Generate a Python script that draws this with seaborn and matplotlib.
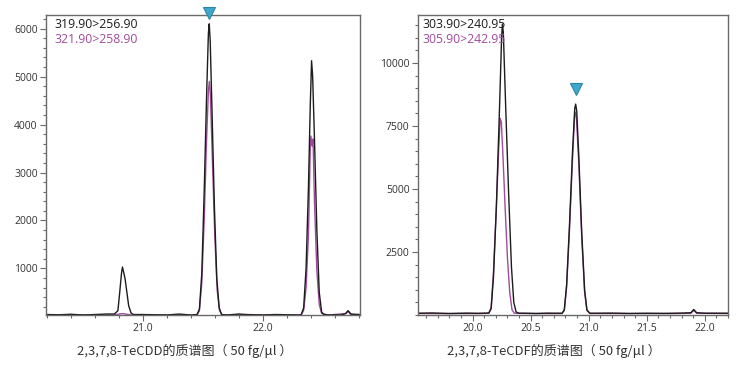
import matplotlib
matplotlib.use("Agg")
import matplotlib.pyplot as plt
import seaborn as sns
import pandas as pd
import numpy as np
from matplotlib.ticker import MultipleLocator, FixedLocator

sns.set_style("ticks")
plt.rcParams['font.family'] = ['Open Sans', 'DejaVu Sans']

# ---------------- data: 2,3,7,8-TeCDD ----------------
cdd_label_a = "319.90>256.90"
cdd_label_b = "321.90>258.90"
cdd_t_a = [20.19, 20.30, 20.40, 20.50, 20.60, 20.70, 20.76, 20.79, 20.805, 20.82, 20.828, 20.84, 20.85,
           20.865, 20.88, 20.90, 20.92, 21.00, 21.10, 21.20, 21.30, 21.40, 21.45, 21.47, 21.49, 21.51,
           21.53, 21.545, 21.552, 21.56, 21.575, 21.595, 21.615, 21.635, 21.655, 21.70, 21.80, 21.85,
           21.90, 22.00, 22.10, 22.20, 22.30, 22.32, 22.34, 22.36, 22.38, 22.395, 22.406, 22.415, 22.43,
           22.45, 22.47, 22.49, 22.51, 22.55, 22.60, 22.65, 22.69, 22.71, 22.73, 22.81]
cdd_y_a = [40, 35, 45, 30, 40, 50, 50, 120, 500, 900, 1030, 900, 780,
           500, 220, 70, 40, 40, 35, 30, 50, 30, 40, 150, 900, 2600,
           4600, 5900, 6100, 5750, 4300, 2300, 800, 180, 40, 30, 50, 40,
           35, 30, 40, 35, 30, 40, 180, 1000, 2700, 4400, 5330, 5000, 3700,
           1800, 500, 90, 40, 30, 35, 30, 60, 120, 50, 40]
cdd_t_b = [20.19, 20.40, 20.60, 20.75, 20.83, 20.90, 21.20, 21.45, 21.47, 21.49, 21.51, 21.53, 21.545,
           21.553, 21.562, 21.578, 21.598, 21.618, 21.638, 21.66, 21.70, 21.85, 22.10, 22.32, 22.34,
           22.36, 22.38, 22.395, 22.40, 22.41, 22.418, 22.43, 22.45, 22.47, 22.49, 22.55, 22.69, 22.715,
           22.74, 22.81]
cdd_y_b = [30, 30, 35, 30, 60, 30, 30, 30, 120, 700, 2000, 3700, 4700,
           4900, 4600, 3300, 1700, 550, 120, 30, 30, 40, 30, 30, 130,
           600, 1700, 3500, 3760, 3550, 3700, 2400, 950, 250, 60, 30, 60, 110,
           40, 30]
cdd_xlabel = "2,3,7,8-TeCDD的质谱图（ 50 fg/μl ）"

# ---------------- data: 2,3,7,8-TeCDF ----------------
cdf_label_a = "303.90>240.95"
cdf_label_b = "305.90>242.95"
cdf_t_a = [19.53, 19.65, 19.80, 19.95, 20.05, 20.12, 20.14, 20.16, 20.18, 20.205, 20.23, 20.25, 20.257,
           20.265, 20.285, 20.31, 20.335, 20.355, 20.375, 20.40, 20.45, 20.55, 20.65, 20.75, 20.77,
           20.79, 20.81, 20.835, 20.86, 20.88, 20.888, 20.897, 20.915, 20.94, 20.965, 20.985, 21.01,
           21.05, 21.20, 21.35, 21.50, 21.65, 21.80, 21.88, 21.905, 21.93, 22.00, 22.20]
cdf_y_a = [70, 80, 60, 75, 65, 75, 80, 250, 1500, 4300, 7900, 11000, 11550,
           11200, 8300, 4900, 1900, 500, 120, 70, 70, 60, 75, 70, 70,
           200, 1200, 3600, 6400, 8200, 8370, 8100, 6300, 3300, 1000, 200, 70,
           70, 75, 60, 70, 65, 75, 90, 220, 90, 70, 70]
cdf_t_b = [19.53, 19.80, 20.05, 20.14, 20.16, 20.18, 20.205, 20.225, 20.238, 20.248, 20.26, 20.28,
           20.30, 20.32, 20.34, 20.36, 20.50, 20.70, 20.77, 20.79, 20.81, 20.835, 20.86, 20.878, 20.886,
           20.895, 20.915, 20.94, 20.965, 20.985, 21.01, 21.30, 21.70, 21.88, 21.905, 21.93, 22.20]
cdf_y_b = [60, 55, 60, 70, 300, 1700, 4300, 6600, 7800, 7650, 6500, 4300,
           2300, 900, 200, 70, 60, 55, 60, 180, 1100, 3400, 6100, 7850, 8050,
           7800, 6000, 3100, 900, 180, 60, 60, 55, 70, 180, 70, 60]
cdf_xlabel = "2,3,7,8-TeCDF的质谱图（ 50 fg/μl ）"

BLACK = "#1c1c1c"
PURPLE = "#a04b9c"
CYAN = "#3fa7cc"
SPINE = "#6a6a6a"
TICKTXT = "#333333"

fig = plt.figure(figsize=(7.42, 3.66), dpi=100)
ax1 = fig.add_axes([46/742, 1-315/366, 314/742, (315-14.7)/366])
ax2 = fig.add_axes([418/742, 1-315/366, 310/742, (315-14.7)/366])


def draw(ax, ta, ya, tb, yb, la, lb, xlim, ylim, xmaj, xmin, ymaj, ymin, marker_idx_range, marker_y):
    da = pd.DataFrame({"t": ta, "v": ya})
    db = pd.DataFrame({"t": tb, "v": yb})
    sns.lineplot(data=db, x="t", y="v", ax=ax, color=PURPLE, lw=1.0, estimator=None, sort=True)
    sns.lineplot(data=da, x="t", y="v", ax=ax, color=BLACK, lw=1.0, estimator=None, sort=True)
    ax.set_xlim(*xlim)
    ax.set_ylim(*ylim)
    ax.set_xlabel("")
    ax.set_ylabel("")
    ax.xaxis.set_major_locator(FixedLocator(xmaj))
    ax.xaxis.set_minor_locator(MultipleLocator(xmin))
    ax.yaxis.set_major_locator(FixedLocator(ymaj))
    ax.yaxis.set_minor_locator(MultipleLocator(ymin))
    ax.xaxis.set_major_formatter(matplotlib.ticker.FormatStrFormatter("%.1f"))
    ax.yaxis.set_major_formatter(matplotlib.ticker.FormatStrFormatter("%d"))
    for s in ax.spines.values():
        s.set_visible(True)
        s.set_color(SPINE)
        s.set_linewidth(1.0)
    ax.tick_params(which="major", length=4, width=0.8, color=SPINE, labelsize=7.5,
                   labelcolor=TICKTXT, pad=2)
    ax.tick_params(which="minor", length=2.5, width=0.8, color=SPINE)
    ax.tick_params(axis="x", which="both", top=False)
    ax.tick_params(axis="y", which="both", right=False)
    ax.text(0.0, 0.969, la, transform=ax.transAxes, color=BLACK, fontsize=8.8, va="center", ha="left")
    ax.text(0.0, 0.918, lb, transform=ax.transAxes, color=PURPLE, fontsize=8.8, va="center", ha="left")
    # peak marker over the labelled peak
    lo, hi = marker_idx_range
    sub = da[(da.t >= lo) & (da.t <= hi)]
    k = sub.v.idxmax()
    ax.plot([da.t[k]], [marker_y(da.v[k])], marker="v", ms=8, color=CYAN,
            mec="#2a86a8", mew=0.8, clip_on=False, zorder=5)


draw(ax1, cdd_t_a, cdd_y_a, cdd_t_b, cdd_y_b, cdd_label_a, cdd_label_b,
     (20.19, 22.81), (30, 6290), [21.0, 22.0], 0.2, [1000, 2000, 3000, 4000, 5000, 6000], 200,
     (21.4, 21.7), lambda v: v + 230)
draw(ax2, cdf_t_a, cdf_y_a, cdf_t_b, cdf_y_b, cdf_label_a, cdf_label_b,
     (19.53, 22.20), (0, 11920), [20.0, 20.5, 21.0, 21.5, 22.0], 0.1, [2500, 5000, 7500, 10000], 500,
     (20.7, 21.1), lambda v: v + 600)

# shift legend texts to match pixel positions
for t in ax1.texts:
    t.set_x((54-46)/314)
for t in ax2.texts:
    t.set_x((422.7-418)/310)

cjk = ['Noto Sans CJK SC', 'DejaVu Sans']
fig.text(185/742, 1-351/366, cdd_xlabel, ha="center", va="center", fontsize=9.4,
         color=TICKTXT, family=cjk)
fig.text(553.5/742, 1-351/366, cdf_xlabel, ha="center", va="center", fontsize=9.4,
         color=TICKTXT, family=cjk)

fig.savefig("out.png", dpi=100)
